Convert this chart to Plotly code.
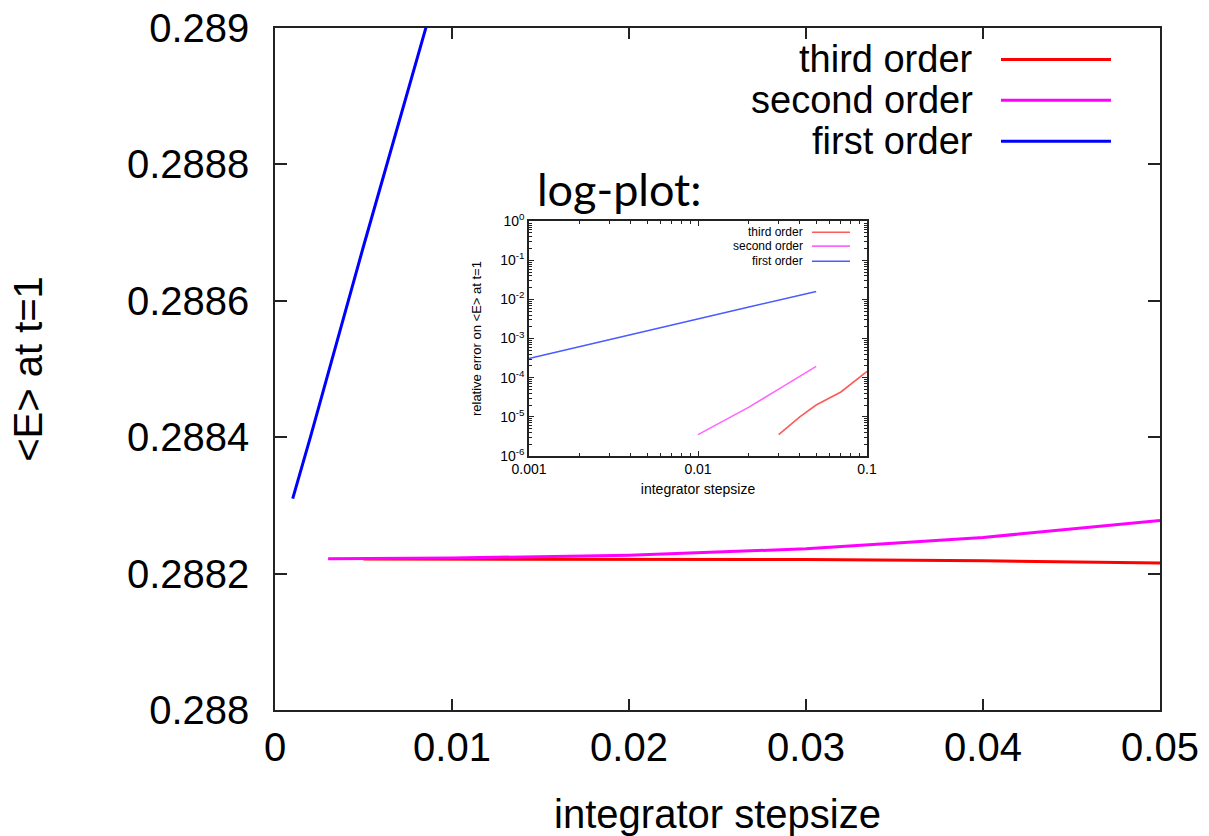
import plotly.graph_objects as go

# ---------------- data ----------------
# main plot: <E> at t=1 vs integrator stepsize
third_x = [0.005, 0.01, 0.02, 0.03, 0.04, 0.05, 0.07, 0.1]
third_y = [0.2882215, 0.2882215, 0.2882214, 0.2882205, 0.2882188, 0.2882155, 0.2882090, 0.2881800]

second_x = [0.003, 0.005, 0.01, 0.02, 0.03, 0.04, 0.05]
second_y = [0.2882217, 0.2882218, 0.2882228, 0.2882270, 0.2882363, 0.2882530, 0.2882777]

first_x = [0.001, 0.002, 0.005, 0.01, 0.02, 0.05]
first_y = [0.28831, 0.28840, 0.28868, 0.28913, 0.29004, 0.29277]

# inset: relative error (log-log)
inset_third_x = [0.03, 0.04, 0.05, 0.07, 0.1]
inset_third_y = [3.5e-6, 1.0e-5, 2.0e-5, 4.3e-5, 1.45e-4]

inset_second_x = [0.01, 0.02, 0.03, 0.04, 0.05]
inset_second_y = [3.5e-6, 1.76e-5, 5.1e-5, 1.07e-4, 1.94e-4]

inset_first_x = [0.001, 0.002, 0.005, 0.01, 0.02, 0.05]
inset_first_y = [3.1e-4, 6.3e-4, 1.6e-3, 3.2e-3, 6.4e-3, 1.6e-2]

series_names = ["third order", "second order", "first order"]

main_x_ticks = [0, 0.01, 0.02, 0.03, 0.04, 0.05]
main_x_labels = ["0", "0.01", "0.02", "0.03", "0.04", "0.05"]
main_y_ticks = [0.288, 0.2882, 0.2884, 0.2886, 0.2888, 0.289]
main_y_labels = ["0.288", "0.2882", "0.2884", "0.2886", "0.2888", "0.289"]

inset_x_ticks = [0.001, 0.01, 0.1]
inset_x_labels = ["0.001", "0.01", "0.1"]
inset_y_ticks = [1e-6, 1e-5, 1e-4, 1e-3, 1e-2, 1e-1, 1]
inset_y_labels = ["10<sup>-6</sup>", "10<sup>-5</sup>", "10<sup>-4</sup>", "10<sup>-3</sup>",
                  "10<sup>-2</sup>", "10<sup>-1</sup>", "10<sup>0</sup>"]
minor_mult = [2, 3, 4, 5, 6, 7, 8, 9]
inset_x_minor = [m * d for d in [0.001, 0.01] for m in minor_mult]
inset_y_minor = [m * d for d in [1e-6, 1e-5, 1e-4, 1e-3, 1e-2, 1e-1] for m in minor_mult]

# ---------------- styles ----------------
main_colors = ["#ff0000", "#ff00ff", "#0000ff"]
inset_colors = ["#ff5a5a", "#ff66ff", "#4a5cff"]
FONT = "Liberation Sans, Arial, sans-serif"
NARROW = "Liberation Sans Narrow, Arial Narrow, Liberation Sans, sans-serif"

fig = go.Figure()

for xs, ys, c in [(third_x, third_y, main_colors[0]),
                  (second_x, second_y, main_colors[1]),
                  (first_x, first_y, main_colors[2])]:
    fig.add_trace(go.Scatter(x=xs, y=ys, mode="lines", line=dict(color=c, width=3),
                             showlegend=False, xaxis="x", yaxis="y"))

for xs, ys, c in [(inset_third_x, inset_third_y, inset_colors[0]),
                  (inset_second_x, inset_second_y, inset_colors[1]),
                  (inset_first_x, inset_first_y, inset_colors[2])]:
    fig.add_trace(go.Scatter(x=xs, y=ys, mode="lines", line=dict(color=c, width=1.6),
                             showlegend=False, xaxis="x2", yaxis="y2"))

axis_common = dict(showgrid=False, zeroline=False, showline=True, linecolor="#222",
                   linewidth=1.5, ticks="inside", mirror="ticks", tickcolor="#222",
                   automargin=False)

fig.update_layout(
    width=1209, height=836,
    margin=dict(l=275, r=49, t=27.5, b=125.5),
    paper_bgcolor="white", plot_bgcolor="white",
    showlegend=False,
    xaxis=dict(**axis_common, range=[0, 0.05], tickvals=main_x_ticks, ticktext=main_x_labels,
               ticklen=11, tickwidth=1.5, ticklabelstandoff=1,
               tickfont=dict(family=NARROW, size=40, color="black"),
               title=dict(text="integrator stepsize", standoff=38,
                          font=dict(family=NARROW, size=40, color="black"))),
    yaxis=dict(**axis_common, range=[0.288, 0.289], tickvals=main_y_ticks, ticktext=main_y_labels,
               ticklen=12, tickwidth=1.5, ticklabelstandoff=16,
               tickfont=dict(family=FONT, size=40, color="black"),
               title=dict(text="<E> at t=1", standoff=72,
                          font=dict(family=FONT, size=40, color="black"))),
    xaxis2=dict(**axis_common, type="log", range=[-3, -1], domain=[0.287, 0.669], anchor="y2",
                tickvals=inset_x_ticks, ticktext=inset_x_labels, ticklen=5, tickwidth=1,
                minor=dict(ticks="inside", ticklen=3, tickcolor="#222", tickvals=inset_x_minor),
                tickfont=dict(family=FONT, size=14, color="black"),
                title=dict(text="integrator stepsize", standoff=8,
                           font=dict(family=NARROW, size=14, color="black"))),
    yaxis2=dict(**axis_common, type="log", range=[-6, 0], domain=[0.3726, 0.7167], anchor="x2",
                tickvals=inset_y_ticks, ticktext=inset_y_labels, ticklen=5, tickwidth=1,
                minor=dict(ticks="inside", ticklen=3, tickcolor="#222", tickvals=inset_y_minor),
                tickfont=dict(family=FONT, size=14, color="black"),
                title=dict(text="relative error on <E> at t=1", standoff=16,
                           font=dict(family=NARROW, size=13, color="black"))),
)

# ---- main key (text right-aligned, sample line on the right, gnuplot style)
key_rows = [0.9539, 0.8939, 0.8338]
for name, c, yy in zip(series_names, main_colors, key_rows):
    fig.add_annotation(xref="paper", yref="paper", x=0.791, y=yy, text=name, showarrow=False,
                       xanchor="right", yanchor="middle",
                       font=dict(family=FONT, size=38, color="black"))
    fig.add_shape(type="line", xref="paper", yref="paper", x0=0.8203, x1=0.9446, y0=yy, y1=yy,
                  line=dict(color=c, width=3))

# ---- inset key
inset_rows = [0.7006, 0.6801, 0.6581]
for name, c, yy in zip(series_names, inset_colors, inset_rows):
    fig.add_annotation(xref="paper", yref="paper", x=0.5989, y=yy, text=name, showarrow=False,
                       xanchor="right", yanchor="middle",
                       font=dict(family=FONT, size=12, color="black"))
    fig.add_shape(type="line", xref="paper", yref="paper", x0=0.6068, x1=0.6497, y0=yy, y1=yy,
                  line=dict(color=c, width=1.6))

# ---- inset heading
fig.add_annotation(xref="paper", yref="paper", x=0.294, y=0.764, text="log-plot:", showarrow=False,
                   xanchor="left", yanchor="middle",
                   font=dict(family="Lato, Open Sans, sans-serif", size=45, color="black"))

fig.write_html("out.html")
